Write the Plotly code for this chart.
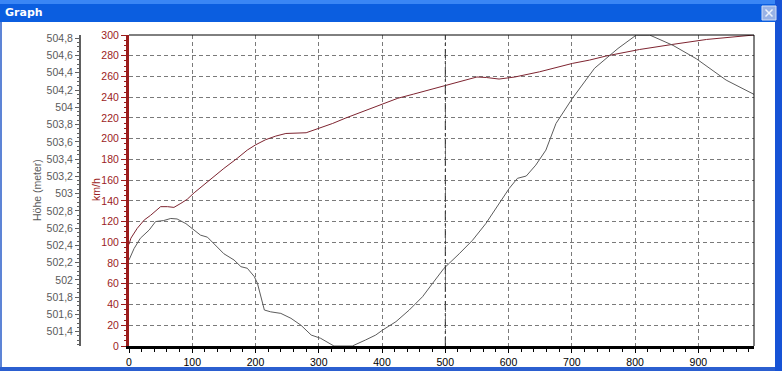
import plotly.graph_objects as go

# ---------------- data ----------------
speed_x = [0, 3, 13, 24, 34, 45, 50, 61, 71, 82, 92, 103, 124, 150, 171, 187, 200, 216,
           232, 248, 280, 301, 322, 343, 364, 380, 400, 425, 450, 480, 500, 530, 550,
           565, 585, 610, 649, 701, 728, 754, 807, 860, 913, 988]
speed_kmh = [98, 104, 113.5, 121.5, 126, 132, 134.4, 134.4, 133.7, 137.6, 141.5, 147.8,
             158.5, 171.3, 181, 189, 194, 199, 202.5, 205, 205.7, 210, 214.7, 220, 225,
             229, 233, 239, 243, 248, 251.5, 256, 259.5, 259, 257.5, 259.5, 264.5, 272.6,
             275.8, 279.7, 286, 291, 295.7, 300]

alt_x = [0, 8, 18, 32, 42, 55, 66, 76, 90, 103, 113, 124, 134, 150, 166, 177, 187, 198,
         203, 208, 214, 224, 240, 256, 272, 288, 303, 324, 353, 374, 390, 401, 422, 443,
         464, 480, 498, 522, 543, 564, 585, 601, 614, 628, 643, 659, 675, 701, 736, 773,
         802, 823, 860, 897, 944, 988]
alt_m = [502.231, 502.363, 502.483, 502.579, 502.676, 502.688, 502.712, 502.706, 502.652,
         502.579, 502.519, 502.495, 502.423, 502.303, 502.231, 502.153, 502.135, 502.039,
         501.961, 501.805, 501.651, 501.630, 501.612, 501.555, 501.474, 501.361, 501.323,
         501.234, 501.234, 501.304, 501.361, 501.419, 501.516, 501.651, 501.805, 501.961,
         502.135, 502.303, 502.459, 502.652, 502.887, 503.060, 503.177, 503.204, 503.330,
         503.504, 503.813, 504.105, 504.453, 504.682, 504.838, 504.838, 504.718, 504.562,
         504.315, 504.150]

x_range = [0, 988]
kmh_range = [0, 300]
alt_range = [501.234, 504.838]

# ---------------- geometry helpers ----------------
W, H = 782, 371
ML, MR, MT, MB = 20, 28, 35, 25
PW, PH = W - ML - MR, H - MT - MB


def xp(px):
    return (px - ML) / PW


def yp(py):
    return (H - MB - py) / PH


FONT = "Liberation Sans"
TFONT = "DejaVu Sans"
RED = "#9b1c1c"
GRAYTXT = "#5a5a5a"

fig = go.Figure()
fig.add_trace(go.Scatter(x=alt_x, y=alt_m, mode="lines", yaxis="y2",
                         line=dict(color="#5c5c5c", width=1), hoverinfo="skip",
                         showlegend=False))
fig.add_trace(go.Scatter(x=speed_x, y=speed_kmh, mode="lines", yaxis="y",
                         line=dict(color="#7e2430", width=1), hoverinfo="skip",
                         showlegend=False))

shapes = []
# window chrome
shapes.append(dict(type="rect", xref="paper", yref="paper", x0=xp(0), x1=xp(782),
                   y0=yp(22), y1=yp(0), fillcolor="#0b5ee0", line=dict(width=0), layer="above"))
shapes.append(dict(type="rect", xref="paper", yref="paper", x0=xp(0), x1=xp(782),
                   y0=yp(4), y1=yp(0), fillcolor="#3a86f5", line=dict(width=0), layer="above"))
shapes.append(dict(type="rect", xref="paper", yref="paper", x0=xp(0), x1=xp(2),
                   y0=yp(371), y1=yp(22), fillcolor="#5d84d6", line=dict(width=0), layer="above"))
shapes.append(dict(type="rect", xref="paper", yref="paper", x0=xp(0), x1=xp(782),
                   y0=yp(371), y1=yp(367), fillcolor="#2b5fd0", line=dict(width=0), layer="above"))
shapes.append(dict(type="rect", xref="paper", yref="paper", x0=xp(775), x1=xp(782),
                   y0=yp(371), y1=yp(0), fillcolor="#1653d6", line=dict(width=0), layer="above"))
# close button
shapes.append(dict(type="rect", xref="paper", yref="paper", x0=xp(762), x1=xp(776),
                   y0=yp(20), y1=yp(6), fillcolor="#98b2e6", line=dict(color="#d3def5", width=1),
                   layer="above"))
shapes.append(dict(type="line", xref="paper", yref="paper", x0=xp(765.5), x1=xp(772.5),
                   y0=yp(9.5), y1=yp(16.5), line=dict(color="#eef3fc", width=1.5), layer="above"))
shapes.append(dict(type="line", xref="paper", yref="paper", x0=xp(765.5), x1=xp(772.5),
                   y0=yp(16.5), y1=yp(9.5), line=dict(color="#eef3fc", width=1.5), layer="above"))
# plot frame (top & right)
shapes.append(dict(type="line", xref="x domain", yref="y domain", x0=0, x1=1, y0=1, y1=1,
                   line=dict(color="black", width=1)))
shapes.append(dict(type="line", xref="x domain", yref="y domain", x0=1, x1=1, y0=0, y1=1,
                   line=dict(color="black", width=1)))
# cursor line at 500
shapes.append(dict(type="line", xref="x", yref="y domain", x0=500, x1=500, y0=0, y1=1,
                   line=dict(color="#333333", width=1, dash="dashdot")))

annotations = [
    dict(text="<b>Graph</b>", xref="paper", yref="paper", x=xp(3), y=yp(12),
         xanchor="left", yanchor="middle", showarrow=False,
         font=dict(family=TFONT, size=11, color="white")),
    dict(text="Höhe (meter)", xref="paper", yref="paper", x=xp(37), y=yp(190),
         xanchor="center", yanchor="middle", showarrow=False, textangle=-90,
         font=dict(family=FONT, size=10.5, color=GRAYTXT)),
    dict(text="km/h", xref="paper", yref="paper", x=xp(96), y=yp(190),
         xanchor="center", yanchor="middle", showarrow=False, textangle=-90,
         font=dict(family=FONT, size=10.5, color=RED)),
]

fig.update_layout(
    width=W, height=H,
    margin=dict(l=ML, r=MR, t=MT, b=MB, pad=0, autoexpand=False),
    paper_bgcolor="white", plot_bgcolor="white",
    separators=",.",
    showlegend=False,
    font=dict(family=FONT, size=10.5, color="black"),
    xaxis=dict(domain=[xp(129), 1], range=x_range, dtick=100, tick0=0, automargin=False,
               showgrid=True, gridcolor="#7a7a7a", griddash="4px,3px", gridwidth=1,
               zeroline=False, showline=True, linecolor="black", linewidth=3,
               ticks="outside", ticklen=4, tickcolor="black", tickwidth=1,
               minor=dict(dtick=20, ticks="outside", ticklen=3, tickcolor="black", showgrid=False),
               tickfont=dict(family=FONT, size=10.5, color="black")),
    yaxis=dict(range=kmh_range, dtick=20, tick0=0, anchor="x", side="left", automargin=False,
               showgrid=True, gridcolor="#7a7a7a", griddash="4px,3px", gridwidth=1,
               zeroline=False, showline=True, linecolor=RED, linewidth=3,
               ticks="outside", ticklen=5, tickcolor=RED, tickwidth=1,
               minor=dict(dtick=5, ticks="outside", ticklen=2, tickcolor=RED, showgrid=False),
               tickfont=dict(family=FONT, size=10.5, color=RED)),
    yaxis2=dict(range=alt_range, dtick=0.2, tick0=501.4, overlaying="y", anchor="free",
                automargin=False,
                position=xp(80), side="left", showgrid=False, zeroline=False,
                showline=True, linecolor="#606060", linewidth=2,
                ticks="outside", ticklen=4, tickcolor="#606060", tickwidth=1,
                minor=dict(dtick=0.05, ticks="outside", ticklen=2, tickcolor="#606060"),
                tickfont=dict(family=FONT, size=10.5, color=GRAYTXT)),
    shapes=shapes,
    annotations=annotations,
)

fig.write_html("out.html")
